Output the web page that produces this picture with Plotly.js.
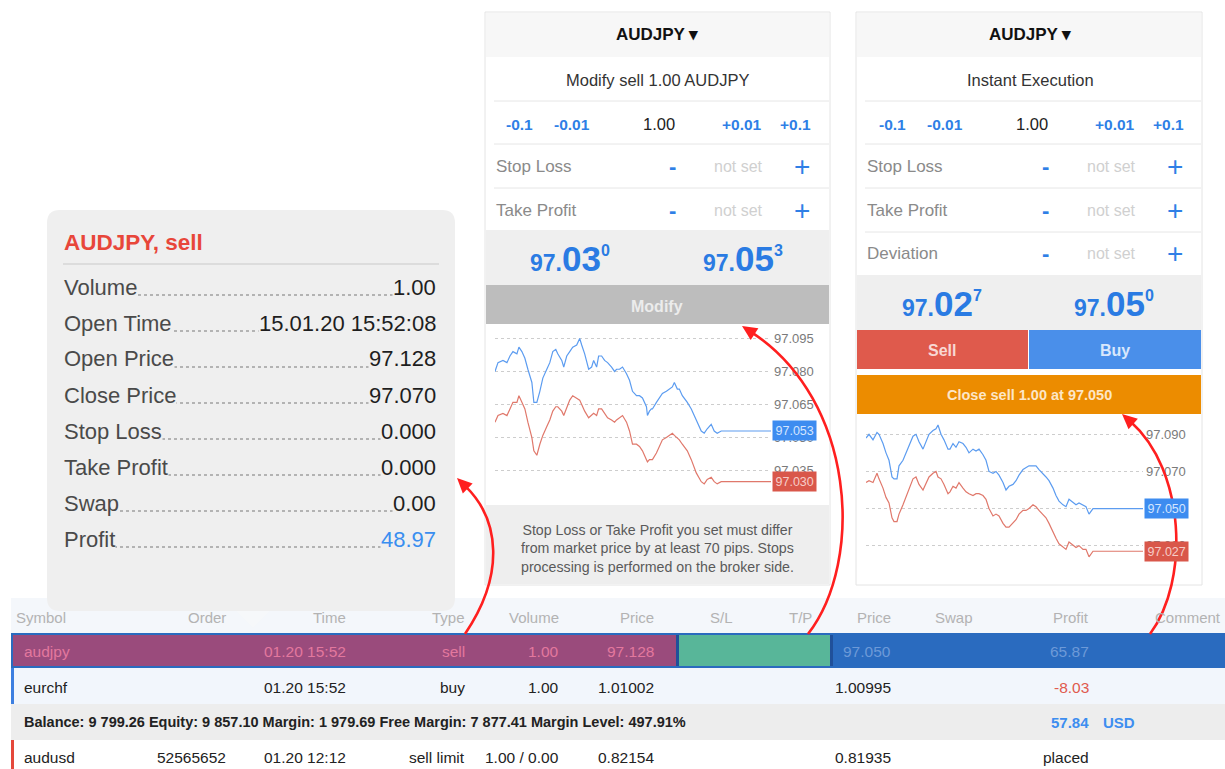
<!DOCTYPE html>
<html><head><meta charset="utf-8">
<script src="https://cdn.plot.ly/plotly-3.0.1.min.js"></script>
<style>html,body{margin:0;padding:0;background:#fff}#chart{width:1225px;height:769px}</style>
</head><body><div id="chart"></div><script>
// ---------- DATA ----------
// "Modify" panel chart (tick index, ask = blue line, bid = red line)
const modifyTicks = [0,3,8,12,15,18,22,24,27,30,33,37,39,42,45,48,52,55,58,61,63,67,69,72,75,78,82,85,87,90,94,97,99,102,104,107,110,113,117,120,122,125,128,132,135,138,142,145,148,152,153,155,157,158,162,165,168,172,175,178,180,183,185,188,193,197,202,207,210,213,217,220,223,227,277];
const modifyAsk = [97.080,97.084,97.085,97.084,97.087,97.089,97.088,97.091,97.089,97.086,97.081,97.075,97.066,97.066,97.071,97.077,97.081,97.084,97.089,97.090,97.088,97.085,97.082,97.087,97.089,97.091,97.092,97.095,97.092,97.088,97.081,97.082,97.085,97.082,97.087,97.087,97.085,97.084,97.082,97.080,97.081,97.081,97.082,97.079,97.076,97.071,97.069,97.069,97.068,97.064,97.060,97.062,97.063,97.063,97.066,97.068,97.070,97.071,97.072,97.073,97.075,97.072,97.072,97.069,97.066,97.063,97.058,97.053,97.052,97.054,97.056,97.053,97.052,97.053,97.053];
const modifyBid = [97.057,97.060,97.061,97.060,97.063,97.066,97.066,97.069,97.066,97.063,97.057,97.050,97.044,97.042,97.047,97.051,97.055,97.058,97.062,97.064,97.064,97.062,97.060,97.064,97.067,97.069,97.068,97.067,97.065,97.062,97.059,97.060,97.061,97.060,97.063,97.063,97.061,97.059,97.058,97.057,97.058,97.059,97.060,97.057,97.053,97.047,97.047,97.046,97.044,97.040,97.039,97.040,97.040,97.040,97.043,97.046,97.049,97.050,97.051,97.052,97.051,97.050,97.049,97.047,97.044,97.040,97.034,97.030,97.029,97.031,97.032,97.030,97.029,97.030,97.030];
const modifyGrid = [97.035,97.050,97.065,97.080,97.095];

// "Instant Execution" panel chart
const instantTicks = [0,3,7,11,13,17,20,23,26,28,31,33,37,40,43,47,50,53,57,60,63,67,70,72,75,78,82,84,87,90,93,97,100,103,107,110,113,117,120,123,127,130,133,137,140,143,147,150,153,157,160,163,167,170,173,177,180,183,187,190,193,197,200,203,207,210,213,217,220,223,227,277];
const instantAsk = [97.088,97.090,97.087,97.091,97.090,97.085,97.080,97.076,97.067,97.066,97.066,97.073,97.076,97.080,97.083,97.089,97.090,97.086,97.082,97.086,97.090,97.092,97.093,97.095,97.090,97.087,97.082,97.082,97.085,97.083,97.086,97.085,97.083,97.080,97.082,97.081,97.082,97.079,97.076,97.070,97.069,97.070,97.068,97.064,97.060,97.062,97.063,97.065,97.068,97.071,97.072,97.073,97.073,97.073,97.071,97.069,97.067,97.065,97.061,97.057,97.054,97.052,97.051,97.055,97.053,97.052,97.053,97.052,97.051,97.047,97.050,97.050];
const instantBid = [97.064,97.065,97.064,97.069,97.066,97.061,97.056,97.053,97.045,97.043,97.043,97.047,97.052,97.056,97.060,97.066,97.067,97.063,97.060,97.064,97.067,97.069,97.070,97.067,97.066,97.063,97.058,97.059,97.062,97.061,97.064,97.061,97.059,97.058,97.057,97.058,97.058,97.057,97.055,97.050,97.046,97.047,97.046,97.042,97.040,97.040,97.042,97.044,97.047,97.049,97.049,97.050,97.052,97.051,97.049,97.047,97.045,97.042,97.037,97.034,97.031,97.029,97.028,97.032,97.030,97.029,97.030,97.028,97.028,97.024,97.027,97.027];
const instantGrid = [97.030,97.050,97.070,97.090];

// Position details popup
const tradeTitle = 'AUDJPY, sell';
const tradeLabels = ['Volume','Open Time','Open Price','Close Price','Stop Loss','Take Profit','Swap','Profit'];
const tradeValues = ['1.00','15.01.20 15:52:08','97.128','97.070','0.000','0.000','0.00','48.97'];

// Order panels
const symbol = 'AUDJPY';
const volume = '1.00';
const volumeSteps = ['-0.1','-0.01','+0.01','+0.1'];
const modifyFields = ['Stop Loss','Take Profit'];
const instantFields = ['Stop Loss','Take Profit','Deviation'];
const notice = 'Stop Loss or Take Profit you set must differ<br>from market price by at least 70 pips. Stops<br>processing is performed on the broker side.';

// Trade table
const tableHeaders = ['Symbol','Order','Time','Type','Volume','Price','S/L','T/P','Price','Swap','Profit','Comment'];
const rowAudjpy = ['audjpy','','01.20 15:52','sell','1.00','97.128','','','97.050','','65.87',''];
const rowEurchf = ['eurchf','','01.20 15:52','buy','1.00','1.01002','','','1.00995','','-8.03',''];
const rowAudusd = ['audusd','52565652','01.20 12:12','sell limit','1.00 / 0.00','0.82154','','','0.81935','','placed',''];
const balanceText = 'Balance: 9 799.26 Equity: 9 857.10 Margin: 1 979.69 Free Margin: 7 877.41 Margin Level: 497.91%';
const totalProfit = '57.84';
const currency = 'USD';

// ---------- HELPERS ----------
const W = 1225, H = 769;
const SANS = 'Liberation Sans, Arial, Helvetica, sans-serif';
const NARROW = 'Liberation Sans Narrow, Arial Narrow, Liberation Sans, Arial, sans-serif';
const BLUE = '#2f7fe6', ARROW = '#ff1f1f';
const px = x => x / W, py = y => 1 - y / H;
const shapes = [], ann = [];
function rect(x0, y0, x1, y1, fill, lc, lw, layer) {
  shapes.push({type:'rect', xref:'paper', yref:'paper', x0:px(x0), x1:px(x1), y0:py(y1), y1:py(y0),
    fillcolor:fill, line:{color:lc || 'rgba(0,0,0,0)', width:lw || 0}, layer:layer || 'below'});
}
function hline(x0, x1, y, color, w, dash) {
  shapes.push({type:'line', xref:'paper', yref:'paper', x0:px(x0), x1:px(x1), y0:py(y), y1:py(y),
    line:{color:color, width:w || 1, dash:dash || 'solid'}, layer:'below'});
}
function pathOf(pts) { return pts.map((p, i) => (i ? 'L' : 'M') + px(p[0]) + ',' + py(p[1])).join(' ') + ' Z'; }
function txt(x, y, text, o) {
  o = o || {};
  ann.push({xref:'paper', yref:'paper', x:px(x), y:py(y), text:text, showarrow:false,
    xanchor:o.a || 'center', yanchor:'middle', align:o.align || 'center',
    font:{family:o.f || SANS, size:o.s || 15, color:o.c || '#222'},
    bgcolor:o.bg || 'rgba(0,0,0,0)', borderpad:o.pad || 0});
}
function roundRect(x0, y0, x1, y1, r, fill) {
  const P = (x, y) => px(x) + ',' + py(y);
  const d = 'M' + P(x0 + r, y0) + ' L' + P(x1 - r, y0) + ' Q' + P(x1, y0) + ' ' + P(x1, y0 + r) +
    ' L' + P(x1, y1 - r) + ' Q' + P(x1, y1) + ' ' + P(x1 - r, y1) + ' L' + P(x0 + r, y1) +
    ' Q' + P(x0, y1) + ' ' + P(x0, y1 - r) + ' L' + P(x0, y0 + r) + ' Q' + P(x0, y0) + ' ' + P(x0 + r, y0) + ' Z';
  shapes.push({type:'path', xref:'paper', yref:'paper', path:d, fillcolor:fill, line:{width:0}, layer:'below'});
}
function arrow(p0, c1, c2, tip) {
  const dx = tip[0] - c2[0], dy = tip[1] - c2[1], L = Math.hypot(dx, dy), ux = dx / L, uy = dy / L;
  const len = 15, hw = 7, bx = tip[0] - ux * len, by = tip[1] - uy * len;
  const P = (x, y) => px(x) + ',' + py(y);
  shapes.push({type:'path', xref:'paper', yref:'paper', layer:'above', line:{color:ARROW, width:2.6},
    path:'M' + P(p0[0], p0[1]) + ' C' + P(c1[0], c1[1]) + ' ' + P(c2[0], c2[1]) + ' ' + P(bx + ux * 3, by + uy * 3)});
  shapes.push({type:'path', xref:'paper', yref:'paper', layer:'above', fillcolor:ARROW, line:{width:0},
    path:pathOf([tip, [bx - uy * hw, by + ux * hw], [bx + uy * hw, by - ux * hw]])});
}
function priceHTML(v) {
  const s = v.toFixed(3);
  return '<b><span style="font-size:23px">' + s.slice(0, 3) + '</span>' + s.slice(3, 5) +
    '<sup><span style="font-size:16px">' + s.slice(5) + '</span></sup></b>';
}
const last = a => a[a.length - 1];

// ---------- TABLE (bottom) ----------
rect(11, 598, W, 633, '#f4f7fb');
rect(11, 633, W, 668, '#2a6bbf');
rect(13, 635, 676, 666, '#9a4b7c');
rect(676, 635, 679, 666, '#20509a');
rect(679, 635, 830, 666, '#58b699');
rect(830, 635, 833, 666, '#20509a');
rect(11, 668, W, 704, '#f2f6fc');
rect(11, 668, 14, 704, '#3d7fe0');
rect(11, 704, W, 740, '#ededed');
rect(11, 740, W, H, '#ffffff');
rect(11, 740, 14, H, '#e5483b');

const colX = [23, 227, 347, 466, 560, 655, 734, 813, 892, 974, 1090, 1222];
tableHeaders.forEach((h, i) => txt(i === 0 ? 15 : colX[i], 617, h, {a:i === 0 ? 'left' : 'right', c:'#b3b3b3', s:15}));
function drawRow(cells, y, colorFn) {
  cells.forEach((c, i) => { if (c) txt(colX[i], y, c, {a:i === 0 ? 'left' : 'right', c:colorFn(i), s:15.5}); });
}
drawRow(rowAudjpy, 651, i => i >= 8 ? '#6d9ad8' : '#e3789e');
drawRow(rowEurchf, 687, i => i === 10 ? '#e05a4e' : '#222');
drawRow(rowAudusd, 757, () => '#222');
txt(23, 722, '<b>' + balanceText + '</b>', {a:'left', s:14.5, c:'#222'});
txt(1090, 722, '<b>' + totalProfit + '</b>', {a:'right', s:15, c:'#3d8ef0'});
txt(1102, 722, '<b>' + currency + '</b>', {a:'left', s:15, c:'#3d8ef0'});

// ---------- LEFT POPUP ----------
roundRect(47, 210, 455, 611, 13, '#efefef');
shapes.push({type:'path', xref:'paper', yref:'paper', layer:'below', fillcolor:'rgba(247,248,250,0.6)', line:{width:0},
  path:pathOf([[236, 611], [270, 611], [253, 628]])});
txt(63, 242, '<b>' + tradeTitle + '</b>', {a:'left', s:22.5, c:'#e8463a'});
hline(63, 439, 264, '#dcdcdc', 2);
tradeLabels.forEach((lab, i) => {
  const y = 287 + 36 * i;
  hline(66, 434, y + 8, '#a0a0a0', 1.5, 'dot');
  txt(63, y, lab, {a:'left', s:22, c:'#4a4a4a', bg:'#efefef'});
  txt(437, y, tradeValues[i], {a:'right', s:22, c:i === tradeValues.length - 1 ? '#3a8ef0' : '#1e1e1e', bg:'#efefef'});
});

// ---------- ORDER PANELS ----------
function panel(x0, x1, cx, subtitle, fields, priceY0, bidV, askV, bidX, askX) {
  rect(x0, 12, x1, 585, '#ffffff', '#e4e4e4', 1);
  rect(x0 + 1, 13, x1 - 1, 57, '#f7f7f7');
  txt(cx, 34, '<b>' + symbol + ' ▾</b>', {f:NARROW, s:17, c:'#111'});
  txt(cx, 80, subtitle, {s:16.5, c:'#333'});
  const lx = x0 + 9;
  hline(lx, x1 - 1, 101, '#e6e6e6', 1);
  const stepX = [cx - 138, cx - 85, cx + 85, cx + 138];
  volumeSteps.forEach((s, i) => txt(stepX[i], 124, '<b>' + s + '</b>', {s:15.5, c:BLUE}));
  txt(cx + 2, 124, volume, {s:16.5, c:'#222'});
  fields.forEach((f, i) => {
    const y = 166 + 44 * i;
    hline(lx, x1 - 1, y - 22, '#e6e6e6', 1);
    txt(lx + 1, y, f, {a:'left', s:17, c:'#8a8a8a'});
    txt(cx + 15, y, '<b>-</b>', {s:22, c:BLUE});
    txt(cx + 81, y, 'not set', {s:16, c:'#d0d0d0'});
    txt(cx + 145, y, '+', {s:28, c:BLUE});
  });
  rect(x0 + 1, priceY0, x1 - 1, priceY0 + 55, '#efefef');
  txt(bidX, priceY0 + 29, priceHTML(bidV), {f:NARROW, s:35, c:'#2a7be3'});
  txt(askX, priceY0 + 29, priceHTML(askV), {f:NARROW, s:35, c:'#2a7be3'});
}
panel(485, 830, 657, 'Modify sell ' + volume + ' ' + symbol, modifyFields, 230, last(modifyBid), last(modifyAsk), 570, 743);
rect(486, 285, 829, 324, '#bdbdbd');
txt(657, 306, '<b>Modify</b>', {s:16, c:'#ececec'});
rect(486, 505, 829, 584, '#eeeeee');
txt(657, 548, notice, {s:14.2, c:'#5a5a5a'});

panel(856, 1202, 1030, 'Instant Execution', instantFields, 275, last(instantBid), last(instantAsk), 942, 1114);
rect(857, 330, 1028, 369, '#df5a4c');
rect(1029, 330, 1201, 369, '#4a8fea');
txt(942, 350, '<b>Sell</b>', {s:16, c:'#f8d8d4'});
txt(1115, 350, '<b>Buy</b>', {s:16, c:'#d8e7fc'});
rect(857, 375, 1201, 414, '#ec8c00');
txt(1029, 395, '<b>Close sell ' + volume + ' at ' + last(instantAsk).toFixed(3) + '</b>', {s:14.5, c:'#fde6c6'});

// ---------- ARROWS ----------
arrow([465, 634], [505, 575], [500, 520], [457, 478]);
arrow([808, 634], [865, 560], [855, 400], [742, 326]);
arrow([1150, 634], [1190, 580], [1185, 470], [1122, 414]);

// ---------- CHART TRACES ----------
const blueLine = {color:'#5c9cf0', width:1.2};
const redLine = {color:'#e0786b', width:1.2};
const traces = [
  {x:modifyTicks, y:modifyAsk, xaxis:'x', yaxis:'y', mode:'lines', line:blueLine, hoverinfo:'skip'},
  {x:modifyTicks, y:modifyBid, xaxis:'x', yaxis:'y', mode:'lines', line:redLine, hoverinfo:'skip'},
  {x:instantTicks, y:instantAsk, xaxis:'x2', yaxis:'y2', mode:'lines', line:blueLine, hoverinfo:'skip'},
  {x:instantTicks, y:instantBid, xaxis:'x2', yaxis:'y2', mode:'lines', line:redLine, hoverinfo:'skip'}
];
function badge(xa, ya, xv, v, bg, fc) {
  ann.push({xref:xa, yref:ya, x:xv, y:v, text:v.toFixed(3), showarrow:false, xanchor:'left', yanchor:'middle',
    xshift:1, bgcolor:bg, borderpad:2.5, font:{family:SANS, size:12.5, color:fc}});
}
badge('x', 'y', last(modifyTicks), last(modifyAsk), '#3d8cf0', '#d4e5ff');
badge('x', 'y', last(modifyTicks), last(modifyBid), '#d9574a', '#f6cdc8');
badge('x2', 'y2', last(instantTicks), last(instantAsk), '#3d8cf0', '#d4e5ff');
badge('x2', 'y2', last(instantTicks), last(instantBid), '#d9574a', '#f6cdc8');

function yax(domPx, range, grid, anchor) {
  return {domain:[1 - domPx[1] / H, 1 - domPx[0] / H], range:range, anchor:anchor, side:'right',
    tickvals:grid, ticktext:grid.map(v => v.toFixed(3)), showgrid:true, gridcolor:'#cdcdcd', gridwidth:1,
    griddash:'3px,3px', zeroline:false, showline:false, ticks:'', ticklabelstandoff:2,
    tickfont:{family:SANS, size:13, color:'#7a7a7a'}, fixedrange:true};
}
const layout = {
  width:W, height:H, margin:{l:0, r:0, t:0, b:0}, paper_bgcolor:'#ffffff', plot_bgcolor:'rgba(0,0,0,0)',
  showlegend:false, hovermode:false,
  xaxis:{domain:[495 / W, 771 / W], range:[0, 277], anchor:'y', visible:false, fixedrange:true},
  yaxis:yax([330, 500], [97.0217, 97.0988], modifyGrid, 'x'),
  xaxis2:{domain:[866 / W, 1143 / W], range:[0, 277], anchor:'y2', visible:false, fixedrange:true},
  yaxis2:yax([420, 580], [97.0115, 97.0977], instantGrid, 'x2'),
  shapes:shapes, annotations:ann
};
Plotly.newPlot('chart', traces, layout, {staticPlot:true, displayModeBar:false});
</script></body></html>
